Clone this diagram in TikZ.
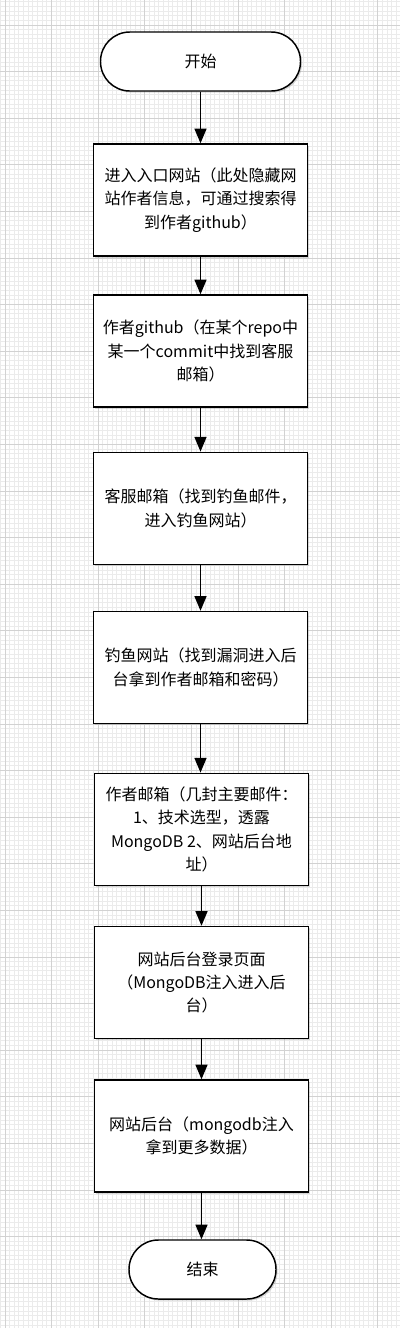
\documentclass[tikz,border=0pt]{standalone}
\usepackage{fontspec}
\newfontfamily\cjk{Noto Sans CJK SC}
\usetikzlibrary{arrows.meta,shadows}
\definecolor{gridminor}{HTML}{EBEBEB}
\definecolor{gridmajor}{HTML}{D2D2D2}
\tikzset{
  stepbox/.style={draw=black, line width=1.1pt, fill=white,
    minimum width=160.5pt, minimum height=84pt, inner sep=0pt,
    align=center, font=\cjk\fontsize{12pt}{17.5pt}\selectfont,
    drop shadow={shadow xshift=1.2pt, shadow yshift=-1.2pt, opacity=0.3}},
  termbox/.style={draw=black, line width=1.1pt, fill=white,
    rounded corners=22pt, inner sep=0pt,
    align=center, font=\cjk\fontsize{12pt}{17.5pt}\selectfont,
    drop shadow={shadow xshift=1.2pt, shadow yshift=-1.2pt, opacity=0.3}},
  flow/.style={draw=black, line width=1.1pt, -{Triangle[width=9pt,length=11pt]}}
}
\begin{document}
\begin{tikzpicture}[x=0.75pt,y=-0.75pt]
\useasboundingbox (0,0) rectangle (400,1328);
\fill[white] (0,0) rectangle (400,1328);
% grid
\begin{scope}
\clip (0,0) rectangle (400,1328);
\foreach \k in {0,...,86} {
  \draw[gridminor, line width=0.75pt] ({0.34+\k*4.66},0) -- ({0.34+\k*4.66},1328);
}
\foreach \k in {0,...,286} {
  \draw[gridminor, line width=0.75pt] (0,{1.7+\k*4.66}) -- (400,{1.7+\k*4.66});
}
\foreach \k in {0,...,8} {
  \draw[gridmajor, line width=0.75pt] ({5+\k*46.6},0) -- ({5+\k*46.6},1328);
}
\foreach \k in {0,...,28} {
  \draw[gridmajor, line width=0.75pt] (0,{25+\k*46.6}) -- (400,{25+\k*46.6});
}
\end{scope}
% nodes
\node[termbox, minimum width=150pt, minimum height=44.25pt] (start) at (200.5,61.5) {开始};
\node[stepbox] (b1) at (200.5,200) {进入入口网站（此处隐藏网\\站作者信息，可通过搜索得\\到作者github）};
\node[stepbox] (b2) at (200.5,351) {作者github（在某个repo中\\某一个commit中找到客服\\邮箱）};
\node[stepbox] (b3) at (200.5,508.3) {客服邮箱（找到钓鱼邮件，\\进入钓鱼网站）};
\node[stepbox] (b4) at (200.5,667.5) {钓鱼网站（找到漏洞进入后\\台拿到作者邮箱和密码）};
\node[stepbox] (b5) at (201.5,829.3) {作者邮箱（几封主要邮件：\\1、技术选型，透露\\MongoDB 2、网站后台地\\址）};
\node[stepbox] (b6) at (201.5,982.5) {网站后台登录页面\\（MongoDB注入进入后\\台）};
\node[stepbox] (b7) at (201.5,1136) {网站后台（mongodb注入\\拿到更多数据）};
\node[termbox, minimum width=110.25pt, minimum height=44.25pt] (end) at (202.5,1269.5) {结束};
% connectors
\draw[flow] (start.south) -- (start.south |- b1.north);
\draw[flow] (b1.south) -- (b1.south |- b2.north);
\draw[flow] (b2.south) -- (b2.south |- b3.north);
\draw[flow] (b3.south) -- (b3.south |- b4.north);
\draw[flow] (b4.south) -- (b4.south |- b5.north);
\draw[flow] (b5.south) -- (b5.south |- b6.north);
\draw[flow] (b6.south) -- (b6.south |- b7.north);
\draw[flow] (b7.south) -- (b7.south |- end.north);
\end{tikzpicture}
\end{document}
